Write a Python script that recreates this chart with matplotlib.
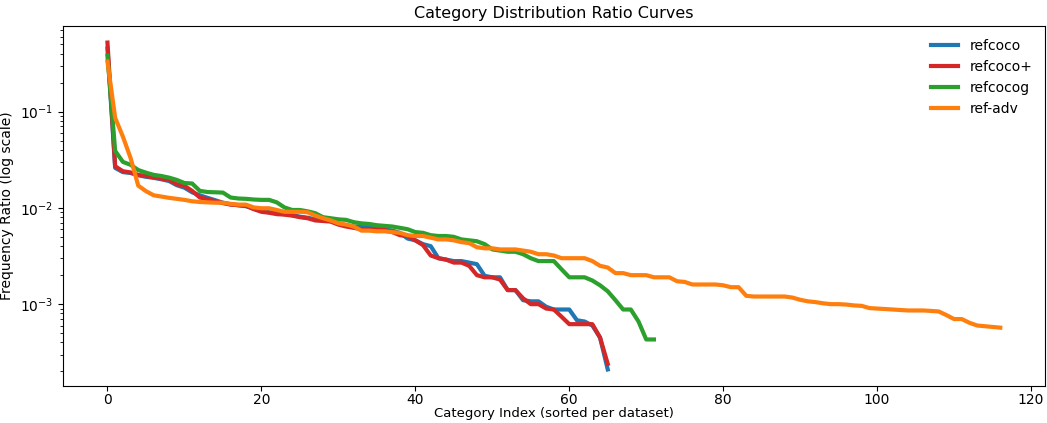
import numpy as np
import matplotlib
matplotlib.use("Agg")
import matplotlib.pyplot as plt

# frequency ratio per category, sorted descending within each dataset
refcoco = [0.45, 0.026, 0.0235, 0.023, 0.0218, 0.021, 0.0205, 0.0198, 0.019, 0.0172,
           0.0162, 0.0145, 0.0135, 0.0127, 0.012, 0.0113, 0.0109, 0.0106, 0.0104, 0.0098,
           0.0093, 0.009, 0.0088, 0.0086, 0.0084, 0.0081, 0.0079, 0.0076, 0.0074, 0.0073,
           0.0069, 0.0066, 0.0064, 0.0064, 0.0063, 0.0062, 0.0060, 0.0058, 0.0055, 0.0048,
           0.0046, 0.0042, 0.0040, 0.0030, 0.0029, 0.0028, 0.0028, 0.0027, 0.0026, 0.00197,
           0.0019, 0.0019, 0.0014, 0.0014, 0.0011, 0.00107, 0.00107, 0.00094, 0.00088, 0.00088,
           0.00088, 0.00068, 0.00066, 0.0006, 0.00045, 0.00021]

refcoco_plus = [0.52, 0.027, 0.024, 0.0233, 0.022, 0.0214, 0.0207, 0.0201, 0.0195, 0.0176,
                0.0169, 0.0150, 0.0128, 0.0123, 0.0117, 0.0112, 0.0108, 0.0107, 0.0105, 0.0097,
                0.0091, 0.0089, 0.0086, 0.0085, 0.0083, 0.0080, 0.0078, 0.0074, 0.0073, 0.0072,
                0.0067, 0.0064, 0.0062, 0.0060, 0.0060, 0.0059, 0.0059, 0.0056, 0.0052, 0.0051,
                0.0046, 0.0041, 0.0032, 0.0030, 0.0029, 0.0027, 0.0027, 0.0025, 0.0020, 0.0019,
                0.0019, 0.0018, 0.0014, 0.0014, 0.00115, 0.0010, 0.0010, 0.0009, 0.00088, 0.00074,
                0.00062, 0.00062, 0.00062, 0.00062, 0.00045, 0.00024]

refcocog = [0.38, 0.039, 0.030, 0.028, 0.0247, 0.0232, 0.022, 0.0214, 0.0206, 0.0195,
            0.0181, 0.0179, 0.015, 0.0146, 0.0145, 0.0144, 0.0128, 0.0125, 0.0124, 0.0122,
            0.0121, 0.0121, 0.0114, 0.0101, 0.0095, 0.0095, 0.0092, 0.0088, 0.0080, 0.0078,
            0.0076, 0.0075, 0.0071, 0.0069, 0.0068, 0.0066, 0.0065, 0.0064, 0.0062, 0.0060,
            0.0056, 0.0055, 0.0052, 0.0051, 0.0051, 0.0050, 0.0047, 0.0046, 0.0045, 0.0042,
            0.0037, 0.0036, 0.0035, 0.0035, 0.0033, 0.0030, 0.0028, 0.0028, 0.0028, 0.0023,
            0.0019, 0.0019, 0.0019, 0.00176, 0.00157, 0.00136, 0.0011, 0.00088, 0.00088, 0.00066,
            0.00043, 0.00043]

ref_adv = [0.33, 0.086, 0.055, 0.033, 0.017, 0.0149, 0.0135, 0.0131, 0.0127, 0.0124,
           0.0121, 0.0117, 0.0115, 0.0114, 0.0113, 0.0113, 0.0110, 0.0108, 0.0108, 0.0101,
           0.0099, 0.0099, 0.0095, 0.0091, 0.0091, 0.0091, 0.0090, 0.0083, 0.0078, 0.0074,
           0.0069, 0.0067, 0.0064, 0.0058, 0.0058, 0.0057, 0.0057, 0.0056, 0.0055, 0.0052,
           0.0051, 0.0051, 0.0049, 0.0047, 0.0047, 0.0046, 0.0044, 0.0043, 0.0039, 0.0038,
           0.0038, 0.0037, 0.0037, 0.0037, 0.0036, 0.0035, 0.0033, 0.0033, 0.0032, 0.0030,
           0.0030, 0.0030, 0.0030, 0.0028, 0.0025, 0.0024, 0.0021, 0.0021, 0.0020, 0.0020,
           0.0020, 0.0019, 0.0019, 0.0019, 0.00173, 0.0017, 0.0016, 0.0016, 0.0016, 0.0016,
           0.00157, 0.0015, 0.0015, 0.00122, 0.0012, 0.0012, 0.0012, 0.0012, 0.0012, 0.00117,
           0.00111, 0.00107, 0.00105, 0.00102, 0.001, 0.001, 0.00099, 0.00097, 0.00096, 0.00091,
           0.0009, 0.00089, 0.00088, 0.00087, 0.00086, 0.00086, 0.00086, 0.00085, 0.00084, 0.00077,
           0.0007, 0.0007, 0.00064, 0.0006, 0.00059, 0.00058, 0.00057]

series = [
    ("refcoco", refcoco, "#1f77b4"),
    ("refcoco+", refcoco_plus, "#d62728"),
    ("refcocog", refcocog, "#2ca02c"),
    ("ref-adv", ref_adv, "#ff7f0e"),
]

fig, ax = plt.subplots(figsize=(10.47, 4.23), dpi=100)
fig.subplots_adjust(left=0.060, right=0.998, top=0.938, bottom=0.088)

for name, vals, col in series:
    ax.plot(np.arange(len(vals)), vals, color=col, linewidth=3, label=name)

ax.set_yscale("log")
ax.set_title("Category Distribution Ratio Curves", fontsize=11.5)
ax.set_xlabel("Category Index (sorted per dataset)", fontsize=9.5, labelpad=0)
ax.set_ylabel("Frequency Ratio (log scale)")
ax.tick_params(axis="x", pad=2)
ax.legend(loc="upper right", frameon=False)

plt.savefig("out.png", dpi=100)
